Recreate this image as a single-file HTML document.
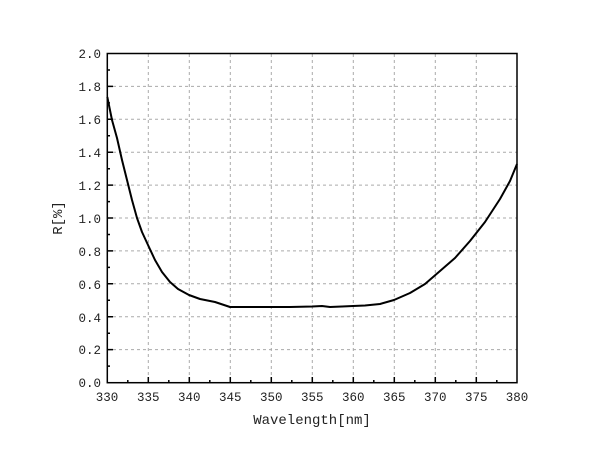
<!DOCTYPE html><html><head><style>body{margin:0;background:#fff}svg{display:block}text{font-family:"Liberation Mono","Noto Serif CJK SC",monospace;font-size:12.5px;fill:#222}</style></head><body>
<svg width="600" height="459" viewBox="0 0 600 459">
<g stroke="#aaa" stroke-width="1" stroke-dasharray="3,3">
<line x1="148.3" y1="54" x2="148.3" y2="383"/><line x1="189.3" y1="54" x2="189.3" y2="383"/><line x1="230.3" y1="54" x2="230.3" y2="383"/><line x1="271.3" y1="54" x2="271.3" y2="383"/><line x1="312.3" y1="54" x2="312.3" y2="383"/><line x1="353.3" y1="54" x2="353.3" y2="383"/><line x1="394.3" y1="54" x2="394.3" y2="383"/><line x1="435.3" y1="54" x2="435.3" y2="383"/><line x1="476.3" y1="54" x2="476.3" y2="383"/>
<line x1="107" y1="86.4" x2="517" y2="86.4"/><line x1="107" y1="119.3" x2="517" y2="119.3"/><line x1="107" y1="152.2" x2="517" y2="152.2"/><line x1="107" y1="185.1" x2="517" y2="185.1"/><line x1="107" y1="218" x2="517" y2="218"/><line x1="107" y1="250.9" x2="517" y2="250.9"/><line x1="107" y1="283.8" x2="517" y2="283.8"/><line x1="107" y1="316.7" x2="517" y2="316.7"/><line x1="107" y1="349.6" x2="517" y2="349.6"/>
</g>
<rect x="107.3" y="53.5" width="409.7" height="329.2" fill="none" stroke="#000" stroke-width="1.5"/>
<g stroke="#000" stroke-width="1.5">
<path d="M148.3 383v-6M189.3 383v-6M230.3 383v-6M271.3 383v-6M312.3 383v-6M353.3 383v-6M394.3 383v-6M435.3 383v-6M476.3 383v-6M127.8 383v-3M168.8 383v-3M209.8 383v-3M250.8 383v-3M291.8 383v-3M332.8 383v-3M373.8 383v-3M414.8 383v-3M455.8 383v-3M496.8 383v-3"/>
<path d="M107 86.4h6M107 119.3h6M107 152.2h6M107 185.1h6M107 218h6M107 250.9h6M107 283.8h6M107 316.7h6M107 349.6h6M107 70h3M107 102.9h3M107 135.8h3M107 168.7h3M107 201.6h3M107 234.5h3M107 267.4h3M107 300.3h3M107 333.2h3M107 366.1h3"/>
</g>
<path fill="none" stroke="#000" stroke-width="2" stroke-linejoin="round" d="M107.3 97 L112 120 L117 138 L122 160 L127 180 L132 200 L137 218 L142 232 L148 245 L155 260 L162 272 L170 282 L178 289 L189 295 L200 299 L215 302 L230 307 L250 307 L271 307 L290 307 L312 306.5 L322 306 L330 307 L342 306.5 L353 306 L365 305.5 L380 304 L394 300 L410 293 L425 284 L440 271 L455 258 L470 241 L485 222 L500 199 L510 181 L517 164"/>
<g text-anchor="end"><text x="101" y="58">2.0</text><text x="101" y="91">1.8</text><text x="101" y="124">1.6</text><text x="101" y="157">1.4</text><text x="101" y="190">1.2</text><text x="101" y="223">1.0</text><text x="101" y="256">0.8</text><text x="101" y="289">0.6</text><text x="101" y="322">0.4</text><text x="101" y="354">0.2</text><text x="101" y="387">0.0</text></g>
<g text-anchor="middle"><text x="107" y="401">330</text><text x="148.3" y="401">335</text><text x="189.3" y="401">340</text><text x="230.3" y="401">345</text><text x="271.3" y="401">350</text><text x="312.3" y="401">355</text><text x="353.3" y="401">360</text><text x="394.3" y="401">365</text><text x="435.3" y="401">370</text><text x="476.3" y="401">375</text><text x="517" y="401">380</text>
<text x="312" y="424" style="font-size:14px">Wavelength[nm]</text>
<text transform="translate(62 218) rotate(-90)" style="font-size:14px">R[%]</text></g>
</svg></body></html>
